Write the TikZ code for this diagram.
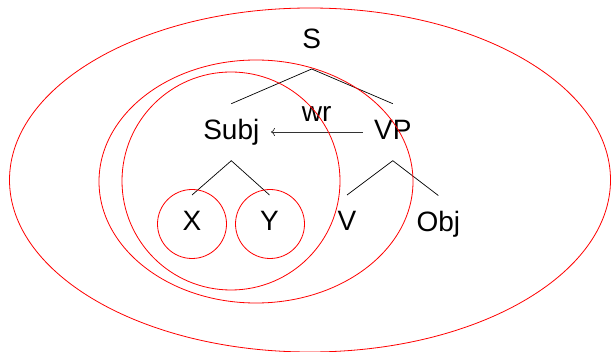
\documentclass[tikz,border=0pt]{standalone}
\usepackage{fontspec}
\setmainfont{Liberation Sans}
\usetikzlibrary{arrows.meta}

\begin{document}
\begin{tikzpicture}[
    x=1pt, y=-1pt,
    word/.style={anchor=base, inner sep=0pt, text=black, font=\fontsize{28}{34}\selectfont},
    ring/.style={draw=red, line width=0.8pt},
    branch/.style={draw=black, line width=0.7pt},
    arr/.style={-{To[length=4pt, width=8pt]}, line width=0.7pt, draw=black!80}
]
\useasboundingbox (0,0) rectangle (612,352);

% ---- words ----
\node[word] (w_s)    at (311.7,48.5)  {S};
\node[word] (w_subj) at (231.3,139.3) {Subj};
\node[word] (w_vp)   at (392.8,139.3) {VP};
\node[word] (w_x)    at (192,231)     {X};
\node[word] (w_y)    at (269.5,231)   {Y};
\node[word] (w_v)    at (347,231)     {V};
\node[word] (w_obj)  at (438.3,231.5) {Obj};

% ---- branches ----
\draw[branch] ([yshift=35.6pt]w_subj.base) -- ([yshift=-20.5pt]w_s.base) -- ([yshift=35.6pt]w_vp.base);
\draw[branch] ([yshift=36pt]w_x.base) -- ([yshift=-21.4pt]w_subj.base) -- ([yshift=36pt]w_y.base);
\draw[branch] ([yshift=36pt]w_v.base) -- ([yshift=-21.4pt]w_vp.base) -- ([yshift=36pt]w_obj.base);

% ---- wr arrow ----
\draw[arr] ([xshift=-11.4pt, yshift=7.3pt]w_vp.base west)
    -- node[word, yshift=10.3pt] (w_wr) {wr}
    ([xshift=11.4pt, yshift=7.3pt]w_subj.base east);

% ---- constituent rings ----
\draw[ring] (310,180) ellipse [x radius=300.5pt, y radius=172pt];
\draw[ring] (256,181.5) ellipse [x radius=157pt, y radius=121.5pt];
\draw[ring] (231,181) circle [radius=109pt];
\draw[ring] (192,224) circle [radius=34.5pt];
\draw[ring] (270,224) circle [radius=34.5pt];

\end{tikzpicture}
\end{document}
